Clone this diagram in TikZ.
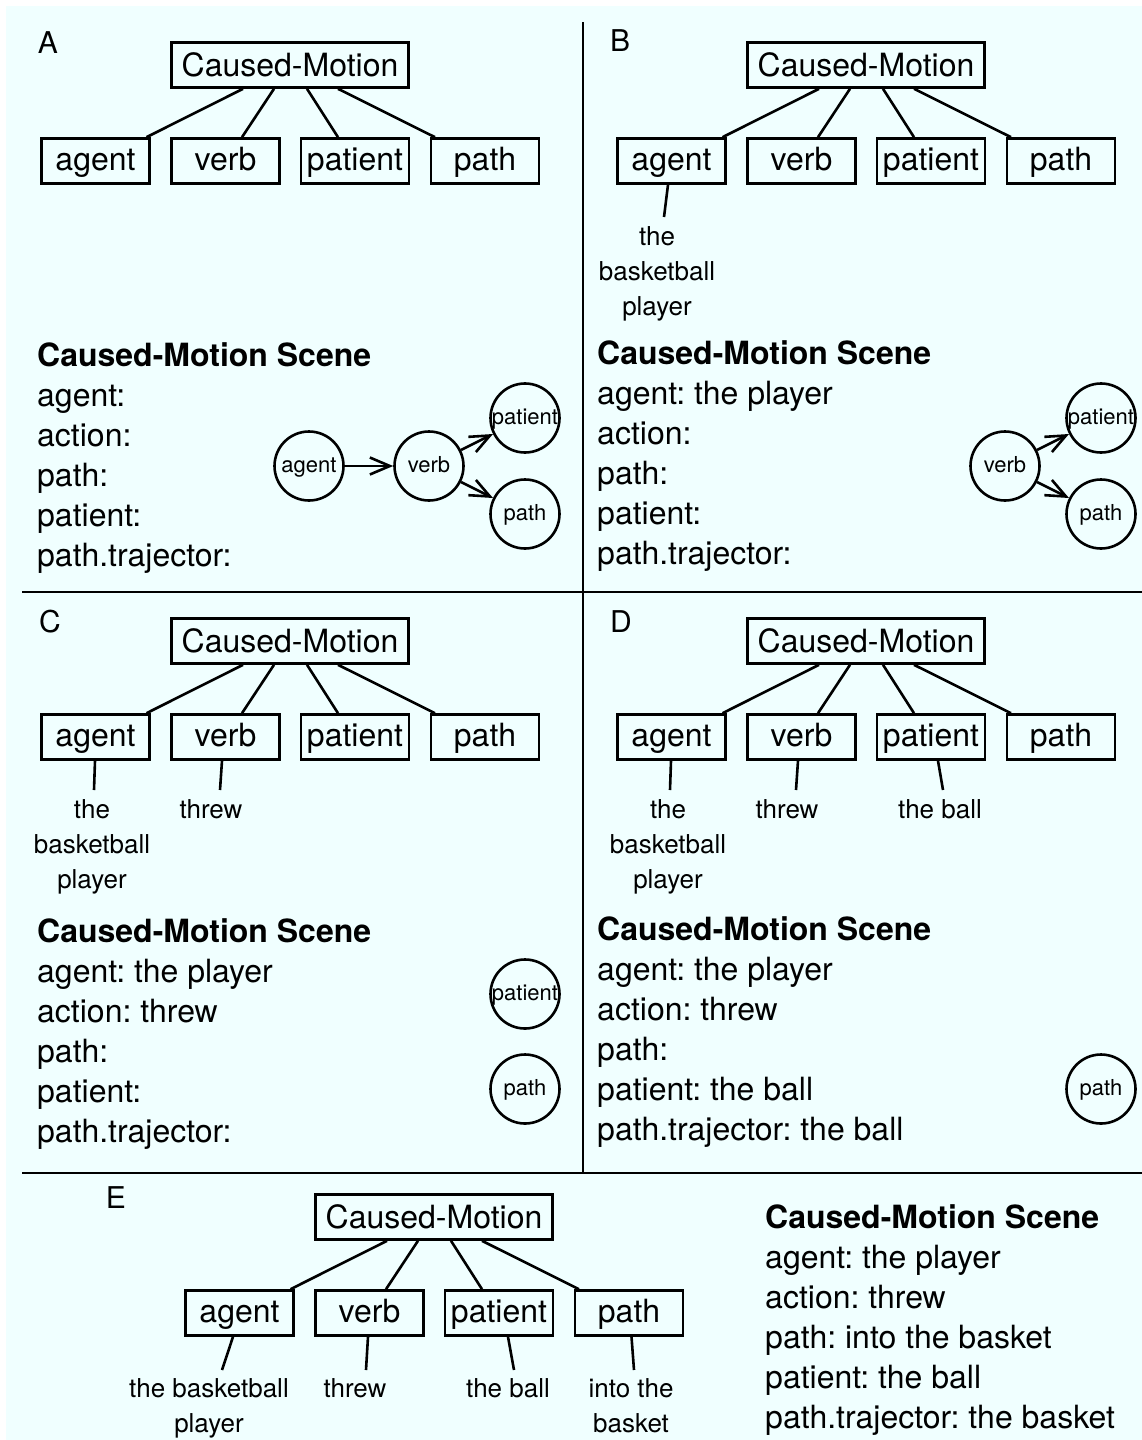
\documentclass[tikz,border=0pt]{standalone}
\usepackage{fontspec}
\setmainfont{TeX Gyre Heros}
\usetikzlibrary{arrows.meta}
\definecolor{bgc}{HTML}{F0FFFF}
\frenchspacing

\newcommand\cmtree[3]{%
  \begin{scope}[shift={(#2,#3)}]
    \node[topbox] (#1top) at (290,65) {Caused-Motion};
    \node[kidbox] (#1ag) at (95.5,161) {agent};
    \node[kidbox] (#1vb) at (225.5,161) {verb};
    \node[kidbox] (#1pt) at (355,161) {patient};
    \node[kidbox] (#1pa) at (485,161) {path};
    \draw[conn] ([xshift=-47pt]#1top.south) -- ([xshift=51pt]#1ag.north);
    \draw[conn] ([xshift=-16pt]#1top.south) -- ([xshift=16.5pt]#1vb.north);
    \draw[conn] ([xshift=17pt]#1top.south) -- ([xshift=-17pt]#1pt.north);
    \draw[conn] ([xshift=48pt]#1top.south) -- ([xshift=-50pt]#1pa.north);
  \end{scope}}

\newcommand\cmscene[8]{%
  \node[scenehead] (#1h) at (#2,#3) {Caused-Motion Scene};
  \node[sceneline] (#1l1) at (#2,#3+40) {#4};
  \node[sceneline] (#1l2) at (#2,#3+80) {#5};
  \node[sceneline] (#1l3) at (#2,#3+120) {#6};
  \node[sceneline] (#1l4) at (#2,#3+160) {#7};
  \node[sceneline] (#1l5) at (#2,#3+200) {#8};}

\begin{document}
\begin{tikzpicture}[x=1pt,y=-1pt,
  topbox/.style={draw, line width=2.6pt, minimum width=237pt, minimum height=45pt,
    inner sep=0pt, font=\fontsize{32}{38}\selectfont, text height=23pt, text depth=1pt},
  kidbox/.style={draw, line width=2.6pt, minimum width=108pt, minimum height=45pt,
    inner sep=0pt, font=\fontsize{32}{38}\selectfont, text height=23pt, text depth=4pt},
  conn/.style={line width=2.6pt},
  leaf/.style={anchor=north, inner sep=0pt, align=center, font=\fontsize{26}{35}\selectfont},
  scenehead/.style={anchor=base west, inner sep=0pt, font=\fontsize{32}{40}\selectfont\bfseries},
  sceneline/.style={anchor=base west, inner sep=0pt, font=\fontsize{32}{40}\selectfont},
  panellabel/.style={anchor=base, inner sep=0pt, font=\fontsize{30}{36}\selectfont},
  circ/.style={draw, circle, line width=2.6pt, minimum size=69pt, inner sep=0pt,
    font=\fontsize{22}{26}\selectfont, text height=16pt, text depth=4pt},
  arr/.style={line width=2.6pt, -{Straight Barb[length=20pt,width=17pt]}},
  divider/.style={line width=2.6pt}]

\useasboundingbox (0,0) rectangle (1142,1440);
\fill[bgc] (6,6) rectangle (1142,1440);

% dividers
\coordinate (vt) at (583,22);
\coordinate (vb) at (583,1173);
\coordinate (h1l) at (22,592);
\coordinate (h1r) at (1142,592);
\coordinate (h2l) at (22,1173);
\coordinate (h2r) at (1142,1173);
\draw[divider] (vt) -- (vb);
\draw[divider] (h1l) -- (h1r);
\draw[divider] (h2l) -- (h2r);

% panel labels
\node[panellabel] (labA) at (48,53) {A};
\node[panellabel] (labB) at (620,51) {B};
\node[panellabel] (labC) at (50,632) {C};
\node[panellabel] (labD) at (621,632) {D};
\node[panellabel] (labE) at (116,1208) {E};

% trees
\cmtree{A}{0}{0}
\cmtree{B}{576}{0}
\cmtree{C}{0}{576}
\cmtree{D}{576}{576}
\cmtree{E}{144}{1152}

% leaves B
\node[leaf] (Blag) at (657,226) {the\\basketball\\player};
\draw[conn] ([xshift=-3.5pt]Bag.south) -- ([xshift=7pt,yshift=9pt]Blag.north);
% leaves C
\node[leaf] (Clag) at (92,799) {the\\basketball\\player};
\draw[conn] ([xshift=-0.5pt]Cag.south) -- ([xshift=2pt,yshift=9pt]Clag.north);
\node[leaf] (Clvb) at (211,799) {threw};
\draw[conn] ([xshift=-3.5pt]Cvb.south) -- ([xshift=9pt,yshift=9pt]Clvb.north);
% leaves D
\node[leaf] (Dlag) at (668,799) {the\\basketball\\player};
\draw[conn] ([xshift=-0.5pt]Dag.south) -- ([xshift=2pt,yshift=9pt]Dlag.north);
\node[leaf] (Dlvb) at (787,799) {threw};
\draw[conn] ([xshift=-3.5pt]Dvb.south) -- ([xshift=9pt,yshift=9pt]Dlvb.north);
\node[leaf] (Dlpt) at (940,799) {the ball};
\draw[conn] ([xshift=7pt]Dpt.south) -- ([xshift=3pt,yshift=9pt]Dlpt.north);
% leaves E
\node[leaf] (Elag) at (209,1378) {the basketball\\player};
\draw[conn] ([xshift=-6.5pt]Eag.south) -- ([xshift=13pt,yshift=8pt]Elag.north);
\node[leaf] (Elvb) at (355,1378) {threw};
\draw[conn] ([xshift=-1.5pt]Evb.south) -- ([xshift=11pt,yshift=8pt]Elvb.north);
\node[leaf] (Elpt) at (508,1378) {the ball};
\draw[conn] ([xshift=9pt]Ept.south) -- ([xshift=6pt,yshift=8pt]Elpt.north);
\node[leaf] (Elpa) at (631,1378) {into the\\basket};
\draw[conn] ([xshift=2.5pt]Epa.south) -- ([xshift=3pt,yshift=8pt]Elpa.north);

% scenes
\cmscene{As}{37}{366.5}{agent:}{action:}{path:}{patient:}{path.trajector:}
\cmscene{Bs}{597}{364.5}{agent: the player}{action:}{path:}{patient:}{path.trajector:}
\cmscene{Cs}{37}{942.5}{agent: the player}{action: threw}{path:}{patient:}{path.trajector:}
\cmscene{Ds}{597}{940.5}{agent: the player}{action: threw}{path:}{patient: the ball}{path.trajector: the ball}
\cmscene{Es}{765}{1228.5}{agent: the player}{action: threw}{path: into the basket}{patient: the ball}{path.trajector: the basket}

% circles A
\node[circ] (Acag) at (309,466) {agent};
\node[circ] (Acvb) at (429,466) {verb};
\node[circ] (Acpt) at (525,418) {patient};
\node[circ] (Acpa) at (525,514) {path};
\draw[arr] (Acag) -- (Acvb);
\draw[arr] (Acvb) -- (Acpt);
\draw[arr] (Acvb) -- (Acpa);
% circles B
\node[circ] (Bcvb) at (1005,466) {verb};
\node[circ] (Bcpt) at (1101,418) {patient};
\node[circ] (Bcpa) at (1101,514) {path};
\draw[arr] (Bcvb) -- (Bcpt);
\draw[arr] (Bcvb) -- (Bcpa);
% circles C
\node[circ] (Ccpt) at (525,994) {patient};
\node[circ] (Ccpa) at (525,1089) {path};
% circles D
\node[circ] (Dcpa) at (1101,1089) {path};

\end{tikzpicture}
\end{document}
